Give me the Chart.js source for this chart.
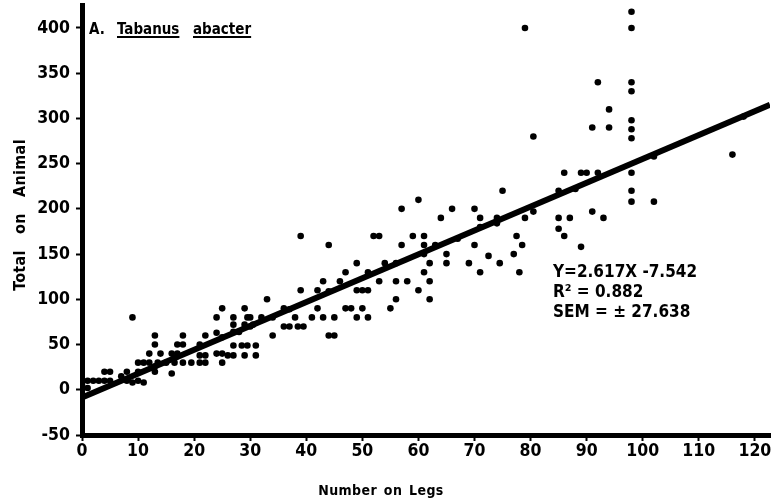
<!DOCTYPE html>
<html><head><meta charset="utf-8">
<script src="https://cdn.jsdelivr.net/npm/chart.js@4/dist/chart.umd.min.js"></script>
<style>html,body{margin:0;padding:0;background:#fff}#wrap{position:relative;width:774px;height:502px}</style>
</head><body><div id="wrap"><canvas id="c" width="774" height="502"></canvas></div>
<script>
// Number on legs (x) and total on animal (y)
const legCounts = [0,0,1,1,2,3,4,5,4,5,7,8,8,9,9,10,10,11,
 10,11,12,13.5,15,16.5,18,19.5,21,22,12,14,16,17,13,17,18,13,18,22,13,16,13,17,21,21,22,
 24,25,27,29,29.5,24,25,25,26,27,29,31,27,28.5,29.5,31,27,29,30.5,27,28,24,25,30,32,34,33,34,30,
 36,36,37,38.5,39.5,38,39,42,41,43,45,42,39,44,43,44,45,37,44,
 46,47,49,49,50,51,47,48,50,49,51,52,53,53,51,54,55,56,56,58,56,
 57,60,57,61,59,61,60,62,62,61,62,65,65,64,63,66,61,
 70,71,74,69,71,72.5,74.5,70,71,75,77.5,78.5,77,78,79,80.5,79,80.5,74,67,
 85,87,85,86,89,86,89,90,92,85,91,93,92,94,91,94,98,98,98,98,98,98,98,98,98,98,102,88,
 102,116,118];
const animalTotals = [0,5,2,10,10,10,10,10,20,20,15,20,10,8,80,10,20,8,
 30,30,30,30,30,30,30,30,30,30,40,40,40,40,50,50,50,60,60,60,20,18,26,37,50,38,38,
 80,90,80,90,80,40,40,30,38,38,38,38,49,49,49,49,72,72,72,64,64,63,58,70,80,80,100,60,80,
 90,70,70,70,70,80,110,110,80,80,80,90,170,160,120,60,60,89,109,
 120,130,140,110,110,110,90,90,90,80,80,170,170,120,130,140,90,100,120,120,140,
 200,210,160,160,170,170,110,120,100,130,140,140,150,190,160,200,150,
 200,190,190,140,130,148,140,160,180,220,170,160,150,130,190,197,400,280,184,167,
 190,190,178,170,158,240,240,240,240,220,197,190,340,310,290,290,418,400,340,330,298,288,278,240,220,208,208,222,
 258,260,302];
// Fitted line end points (Y = 2.617X - 7.542), as drawn in the picture
const fitX = [0, 122.7];
const fitY = [-8.5, 315];
const xTicks = [0,10,20,30,40,50,60,70,80,90,100,110,120];
const yTicks = [-50,0,50,100,150,200,250,300,350,400];
const panelLabel = ['A.', 'Tabanus', 'abacter'];
const statLines = ['Y=2.617X -7.542', 'R\u00b2 = 0.882', 'SEM = \u00b1 27.638'];
const xTitle = 'Number on Legs';
const yTitle = 'Total on Animal';

const FAM = "'DejaVu Sans Condensed','DejaVu Sans',sans-serif";
const tickFont = {family: FAM, size: 17.5, weight: 'bold'};

const textPlugin = {
  id: 'texts',
  afterDraw(chart) {
    const ctx = chart.ctx;
    ctx.save();
    ctx.fillStyle = '#000';
    ctx.strokeStyle = '#000';
    ctx.textBaseline = 'alphabetic';
    // panel label
    ctx.font = 'bold 15px ' + FAM;
    ctx.textAlign = 'left';
    let x = 89;
    const yb = 34;
    ctx.fillText(panelLabel[0], x, yb);
    x = 117;
    let w = ctx.measureText(panelLabel[1]).width;
    ctx.fillText(panelLabel[1], x, yb);
    ctx.lineWidth = 2;
    ctx.beginPath(); ctx.moveTo(x, yb + 3); ctx.lineTo(x + w, yb + 3); ctx.stroke();
    x = 193;
    w = ctx.measureText(panelLabel[2]).width;
    ctx.fillText(panelLabel[2], x, yb);
    ctx.beginPath(); ctx.moveTo(x, yb + 3); ctx.lineTo(x + w, yb + 3); ctx.stroke();
    // stats
    ctx.font = 'bold 17px ' + FAM;
    ctx.fillText(statLines[0], 553, 277);
    ctx.fillText(statLines[1], 553, 297);
    ctx.fillText(statLines[2], 553, 317);
    // axis titles
    ctx.font = 'bold 14px ' + FAM;
    ctx.textAlign = 'center';
    try { ctx.letterSpacing = '0.4px'; ctx.wordSpacing = '2px'; } catch (e) {}
    ctx.fillText(xTitle, 381, 495);
    ctx.font = 'bold 16px ' + FAM;
    try { ctx.letterSpacing = '0.3px'; ctx.wordSpacing = '11px'; } catch (e) {}
    ctx.translate(25, 215);
    ctx.rotate(-Math.PI / 2);
    ctx.fillText(yTitle, 0, 0);
    ctx.restore();
  }
};

new Chart(document.getElementById('c'), {
  type: 'scatter',
  data: {
    datasets: [
      {
        type: 'line',
        data: fitX.map((v, i) => ({x: v, y: fitY[i]})),
        borderColor: '#000',
        borderWidth: 6,
        pointRadius: 0,
        fill: false,
        order: 0
      },
      {
        data: legCounts.map((v, i) => ({x: v, y: animalTotals[i]})),
        backgroundColor: '#000',
        borderColor: '#000',
        pointRadius: 3.3,
        borderWidth: 0,
        order: 1
      }
    ]
  },
  options: {
    responsive: false,
    devicePixelRatio: 1,
    animation: false,
    layout: {padding: {top: 5, right: 4, left: 0, bottom: 0}},
    plugins: {legend: {display: false}, tooltip: {enabled: false}},
    scales: {
      x: {
        type: 'linear', min: 0, max: 122.7,
        afterBuildTicks: s => { s.ticks = xTicks.map(v => ({value: v})); },
        afterFit: s => { s.height = 67; s.paddingLeft = 0; s.paddingRight = 0; },
        ticks: {color: '#000', font: tickFont, padding: 0, maxRotation: 0},
        grid: {display: true, drawOnChartArea: false, drawTicks: true, tickLength: 6, tickColor: '#000', tickWidth: 2},
        border: {display: true, color: '#000', width: 5}
      },
      y: {
        type: 'linear', min: -50, max: 425.4,
        afterBuildTicks: s => { s.ticks = yTicks.map(v => ({value: v})); },
        afterFit: s => { s.width = 82; s.paddingTop = 0; s.paddingBottom = 0; },
        ticks: {color: '#000', font: tickFont, padding: 6},
        grid: {display: true, drawOnChartArea: false, drawTicks: true, tickLength: 6, tickColor: '#000', tickWidth: 2},
        border: {display: true, color: '#000', width: 5}
      }
    }
  },
  plugins: [textPlugin]
});
</script></body></html>
